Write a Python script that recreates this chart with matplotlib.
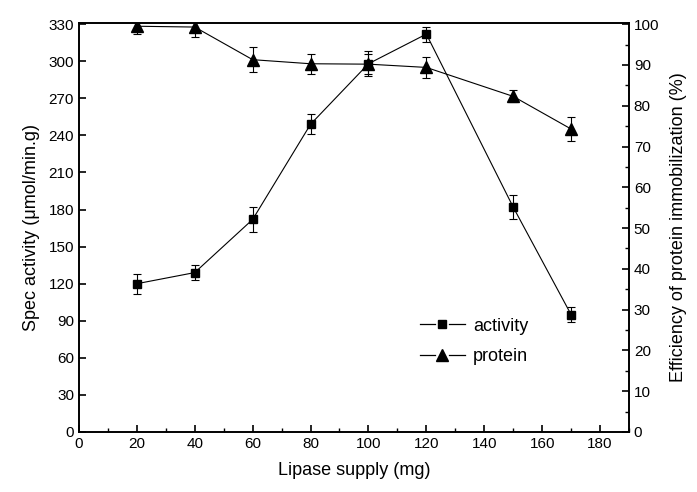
import matplotlib
matplotlib.use("Agg")
import matplotlib.pyplot as plt
from matplotlib.ticker import MultipleLocator
from matplotlib.lines import Line2D
from matplotlib.legend_handler import HandlerBase

plt.rcParams['font.family'] = ['Liberation Sans', 'DejaVu Sans']

lipase = [20, 40, 60, 80, 100, 120, 150, 170]
activity = [120, 129, 172, 249, 298, 322, 182, 95]
activity_err = [8, 6, 10, 8, 10, 6, 10, 6]
protein = [99.5, 99.3, 91.3, 90.3, 90.2, 89.4, 82.3, 74.3]
protein_err = [2, 2.5, 3, 2.5, 2.5, 2.5, 1.5, 3]


class HandlerSplit(HandlerBase):
    def create_artists(self, legend, orig_handle, xdescent, ydescent, width, height,
                       fontsize, trans):
        y = height / 2 - ydescent
        x0 = -xdescent
        x1 = x0 + width
        xc = (x0 + x1) / 2
        gap = 0.16 * width
        la = Line2D([x0, xc - gap], [y, y], color='black', linewidth=0.9, transform=trans)
        lb = Line2D([xc + gap, x1], [y, y], color='black', linewidth=0.9, transform=trans)
        m = Line2D([xc], [y], color='black', marker=orig_handle.get_marker(),
                   markersize=orig_handle.get_markersize(), linestyle='none',
                   transform=trans)
        return [la, lb, m]


fig = plt.figure(figsize=(6.97, 4.92), dpi=100)
ax = fig.add_axes([0.1133, 0.122, 0.7891, 0.8313])
ax2 = ax.twinx()

ax.errorbar(lipase, activity, yerr=activity_err, color='black', marker='s',
            markersize=6, linewidth=0.8, elinewidth=0.8, capsize=3, capthick=0.8)
ax2.errorbar(lipase, protein, yerr=protein_err, color='black', marker='^',
             markersize=8, linewidth=0.8, elinewidth=0.8, capsize=3, capthick=0.8)

ax.set_xlim(0, 190)
ax.set_ylim(0, 331)
ax2.set_ylim(0, 100.3)

ax.xaxis.set_major_locator(MultipleLocator(20))
ax.xaxis.set_minor_locator(MultipleLocator(10))
ax.yaxis.set_major_locator(MultipleLocator(30))
ax2.yaxis.set_major_locator(MultipleLocator(10))
ax2.yaxis.set_minor_locator(MultipleLocator(5))

for a in (ax, ax2):
    a.tick_params(which='major', direction='in', length=5, width=1.2, labelsize=11)
    a.tick_params(which='minor', direction='in', length=3, width=1.0)
    for s in a.spines.values():
        s.set_linewidth(1.2)
ax.tick_params(axis='x', which='both', top=False)

ax.set_xlabel('Lipase supply (mg)', fontsize=13, labelpad=8)
ax.set_ylabel('Spec activity (μmol/min.g)', fontsize=13, labelpad=6)
ax2.set_ylabel('Efficiency of protein immobilization (%)', fontsize=13, labelpad=8)

h1 = Line2D([], [], color='black', marker='s', markersize=6, linewidth=0.8)
h2 = Line2D([], [], color='black', marker='^', markersize=8, linewidth=0.8)
leg = ax.legend([h1, h2], ['activity', 'protein'], frameon=False, fontsize=13,
                loc='upper left', bbox_to_anchor=(407/697, 1 - 305/492),
                bbox_transform=fig.transFigure, handlelength=2.5, handletextpad=0.45,
                labelspacing=0.75, borderpad=0.2,
                handler_map={h1: HandlerSplit(), h2: HandlerSplit()})

fig.savefig('out.png', dpi=100)
